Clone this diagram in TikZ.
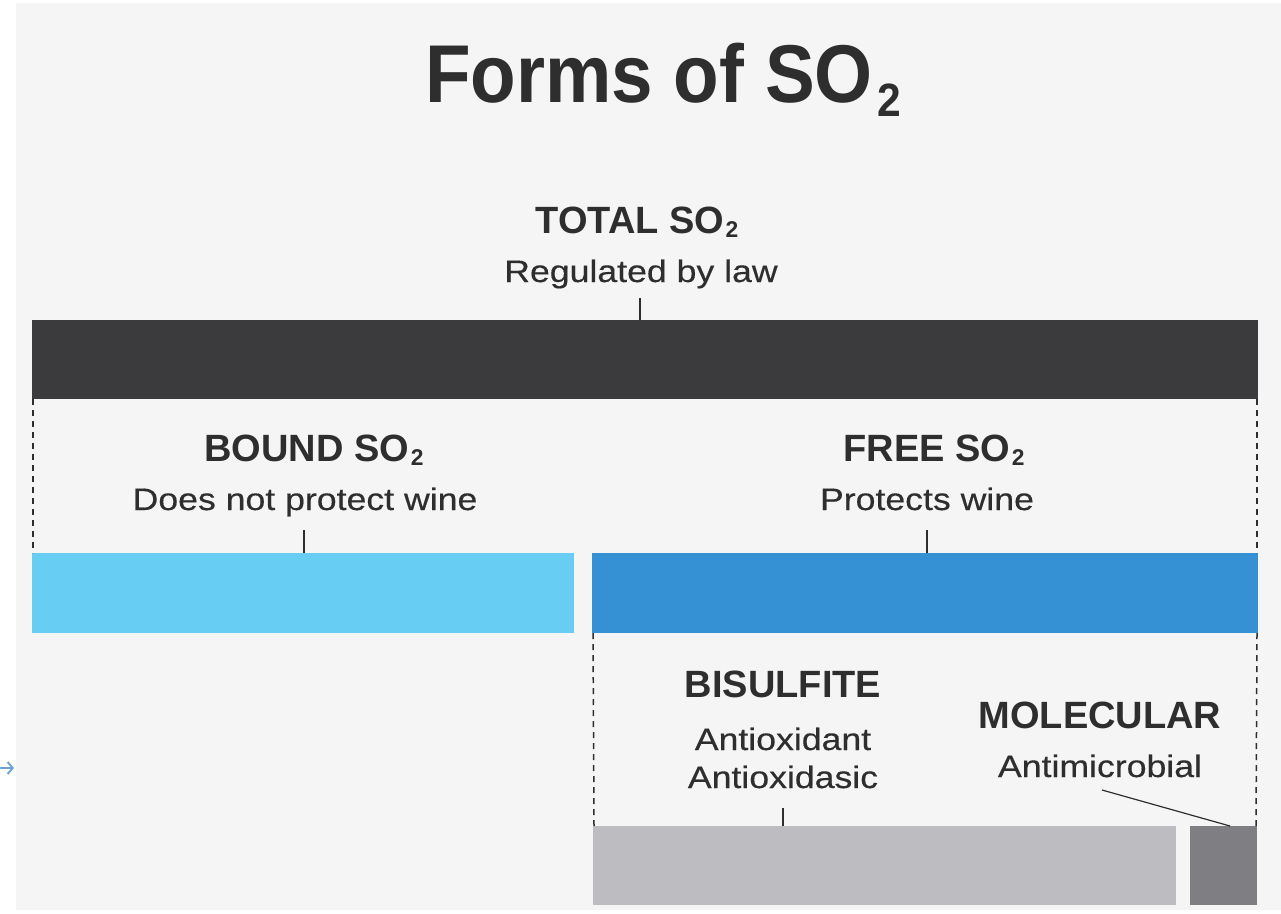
\documentclass[tikz,border=0pt]{standalone}
\usepackage{fontspec}
\setmainfont{Liberation Sans}
\newfontfamily\titlefont[FakeStretch=0.91]{Liberation Sans}
\newfontfamily\capfont[FakeStretch=1.15, FakeBold=0.4]{Liberation Sans}
\usetikzlibrary{arrows.meta}

\definecolor{panelbg}{HTML}{F5F5F5}
\definecolor{inkdark}{HTML}{2E2E2E}
\definecolor{totalbar}{HTML}{3B3B3D}
\definecolor{boundbar}{HTML}{67CDF3}
\definecolor{freebar}{HTML}{3591D3}
\definecolor{bisulfbar}{HTML}{BDBDC1}
\definecolor{molbar}{HTML}{7F7F83}
\definecolor{arrowblue}{HTML}{6FA3D6}

% chemical subscript two: #1 = scale, #2 = drop below the baseline (em)
\newcommand{\chemtwo}[2]{\hspace{0.04em}\raisebox{-#2em}{\scalebox{#1}{2}}}

\tikzset{
  bar/.style={draw=none, inner sep=0pt, outer sep=0pt},
  heading/.style={anchor=base, text=inkdark, inner sep=0pt, font=\fontsize{38}{40}\selectfont\bfseries},
  caption/.style={anchor=base, text=inkdark, inner sep=0pt, font=\capfont\fontsize{31}{33}\selectfont},
  tick/.style={draw=inkdark, line width=1.2pt},
  guide/.style={draw=inkdark, line width=1.5pt, dash pattern=on 6pt off 5pt},
}

\begin{document}
\begin{tikzpicture}[x=1pt, y=-1pt]
\useasboundingbox (0,0) rectangle (1281,913);
\fill[white] (0,0) rectangle (1281,913);
\fill[panelbg] (16,3) rectangle (1281,910);

% small arrow at the left margin
\coordinate (arrA) at (0,768);
\coordinate (arrB) at (14,768);
\draw[arrowblue, line width=2pt, -{Straight Barb[length=5pt,width=12pt]}] (arrA) -- (arrB);

% title
\node[anchor=base west, text=inkdark, inner sep=0pt, font=\titlefont\fontsize{82}{84}\selectfont\bfseries] (title) at (425,102) {Forms of SO\hspace{0.05em}\raisebox{-0.18em}{\scalebox{0.57}{2}}};

% total
\node[heading] (totalh) at (637,233) {TOTAL SO\chemtwo{0.6}{0.12}};
\node[caption] (totalc) at (641,282) {Regulated by law};
\node[bar, fill=totalbar, minimum width=1226pt, minimum height=79pt] (total) at (645,359.5) {};
\coordinate (totaltick) at (640,298);
\draw[tick] (totaltick) -- (totaltick |- total.north);

% bound and free
\node[bar, fill=boundbar, minimum width=542pt, minimum height=80pt] (bound) at (303,593) {};
\node[bar, fill=freebar, minimum width=666pt, minimum height=80pt] (free) at (925,593) {};
\node[heading] (boundh) at (314,461) {BOUND SO\chemtwo{0.6}{0.12}};
\node[caption] (boundc) at (305,510) {Does not protect wine};
\node[heading] (freeh) at (934,461) {FREE SO\chemtwo{0.6}{0.12}};
\node[caption] (freec) at (927,510) {Protects wine};
\coordinate (boundtick) at (304,530);
\coordinate (freetick) at (927,530);
\draw[tick] (boundtick) -- (boundtick |- bound.north);
\draw[tick] (freetick) -- (freetick |- free.north);
\draw[guide] ([xshift=1pt]total.south west) -- ([xshift=1pt]bound.north west);
\draw[guide] ([xshift=-1pt]total.south east) -- ([xshift=-1pt]free.north east);

% bisulfite and molecular
\node[bar, fill=bisulfbar, minimum width=583pt, minimum height=79pt] (bisulf) at (884.5,865.5) {};
\node[bar, fill=molbar, minimum width=67pt, minimum height=79pt] (mol) at (1223.5,865.5) {};
\node[heading] (bisulfh) at (783,697) {BISULFITE};
\node[caption] (bisulfc1) at (783,750) {Antioxidant};
\node[caption] (bisulfc2) at (783,788) {Antioxidasic};
\node[heading] (molh) at (1100,728) {MOLECULAR};
\node[caption] (molc) at (1100,777) {Antimicrobial};
\coordinate (bisulftick) at (783,808);
\coordinate (molleader) at (1102,790);
\draw[tick] (bisulftick) -- (bisulftick |- bisulf.north);
\draw[tick] (molleader) -- ([xshift=40pt]mol.north west);
\draw[guide] ([xshift=1pt]free.south west) -- ([xshift=1pt]bisulf.north west);
\draw[guide] ([xshift=-1pt]free.south east) -- ([xshift=-1pt]mol.north east);
\end{tikzpicture}
\end{document}
